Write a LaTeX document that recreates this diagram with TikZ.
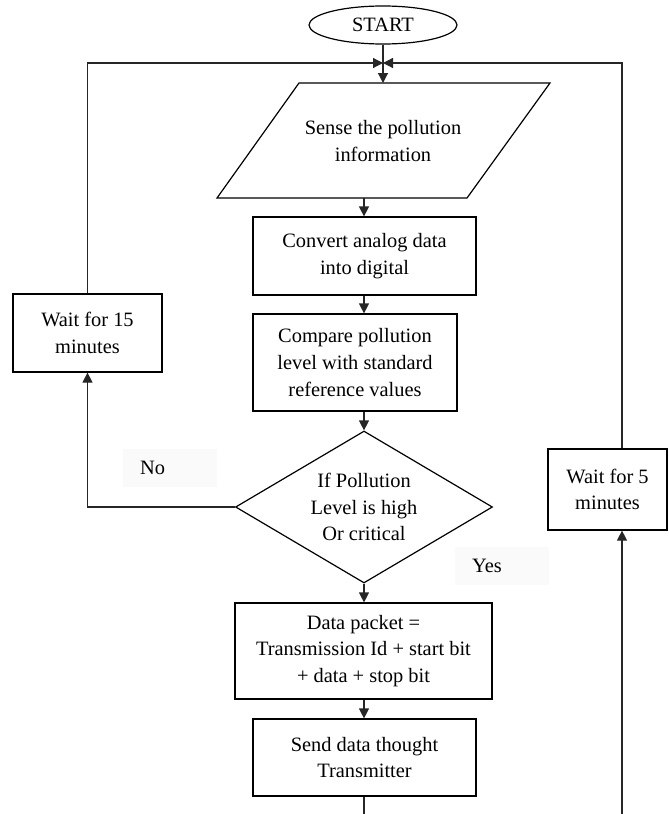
\documentclass[tikz,border=0pt]{standalone}
\usepackage{fontspec}
\setmainfont{Liberation Serif}
\usetikzlibrary{shapes.geometric,arrows.meta}
\begin{document}
\begin{tikzpicture}[x=1pt,y=-1pt,
  every node/.style={font=\fontsize{20.4}{26.7}\selectfont},
  box/.style={draw=black, line width=1.2pt, rectangle, inner sep=0pt, align=center},
  outline/.style={draw=black, line width=1.2pt},
  flow/.style={draw=black!85, line width=1.2pt, -{Triangle[length=10pt,width=10pt]}},
  plain/.style={draw=black!85, line width=1.2pt},
  lbl/.style={fill=black!2, anchor=west, minimum height=38pt, inner xsep=17pt,
              text width=60pt, align=left}]
\useasboundingbox (0,0) rectangle (669,814);

% terminal
\node[ellipse, outline, minimum width=148pt, minimum height=38pt, inner sep=0pt]
  (start) at (383,25) {START};

% input (parallelogram)
\draw[outline] (217,198) -- (467,198) -- (550,83) -- (299,83) -- cycle;
\node[align=center] (sense) at (383,141) {Sense the pollution\\information};
\coordinate (sensetop) at (383,83);
\coordinate (sensebot) at (364,198);

% process boxes
\node[box, minimum width=223pt, minimum height=78pt] (conv) at (364.5,256)
  {Convert analog data\\into digital};
\node[box, minimum width=204pt, minimum height=97pt] (comp) at (355,362.5)
  {Compare pollution\\level with standard\\reference values};
\node[diamond, outline, minimum width=257pt, minimum height=152pt, inner sep=0pt]
  (dec) at (364,507) {};
\node[align=center] (dectext) at (dec) {If Pollution\\Level is high\\Or critical};
\node[box, minimum width=257pt, minimum height=96pt] (data) at (363.5,651)
  {Data packet =\\Transmission Id + start bit\\+ data + stop bit};
\node[box, minimum width=223pt, minimum height=77pt] (send) at (364.5,757.5)
  {Send data thought\\Transmitter};

% waiting boxes
\node[box, minimum width=149pt, minimum height=78pt] (w15) at (87.5,333)
  {Wait for 15\\minutes};
\node[box, minimum width=119pt, minimum height=81pt] (w5) at (607.5,489.5)
  {Wait for 5\\minutes};

% branch labels
\node[lbl] (no) at (123,468) {No};
\node[lbl] (yes) at (455,565.5) {Yes};

% junction and free ends
\coordinate (jn) at (383,63);
\coordinate (sendend) at (364,814);
\coordinate (rbot) at (622,814);

% main flow
\draw[flow] (start.south) -- (sensetop);
\draw[flow] (sensebot) -- (sensebot |- conv.north);
\draw[flow] (sensebot |- conv.south) -- (sensebot |- comp.north);
\draw[flow] (dec.north |- comp.south) -- (dec.north);
\draw[flow] (dec.south) -- (dec.south |- data.north);
\draw[flow] (dec.south |- data.south) -- (dec.south |- send.north);
\draw[plain] (sensebot |- send.south) -- (sendend);

% "No" loop
\draw[flow] (dec.west) -- (w15.south |- dec.west) -- (w15.south);
\draw[flow] (w15.north) -- (w15.north |- jn) -- (jn);

% return loop
\draw[flow] (rbot) -- (rbot |- w5.south);
\draw[flow] (rbot |- w5.north) -- (rbot |- jn) -- (jn);
\end{tikzpicture}
\end{document}
